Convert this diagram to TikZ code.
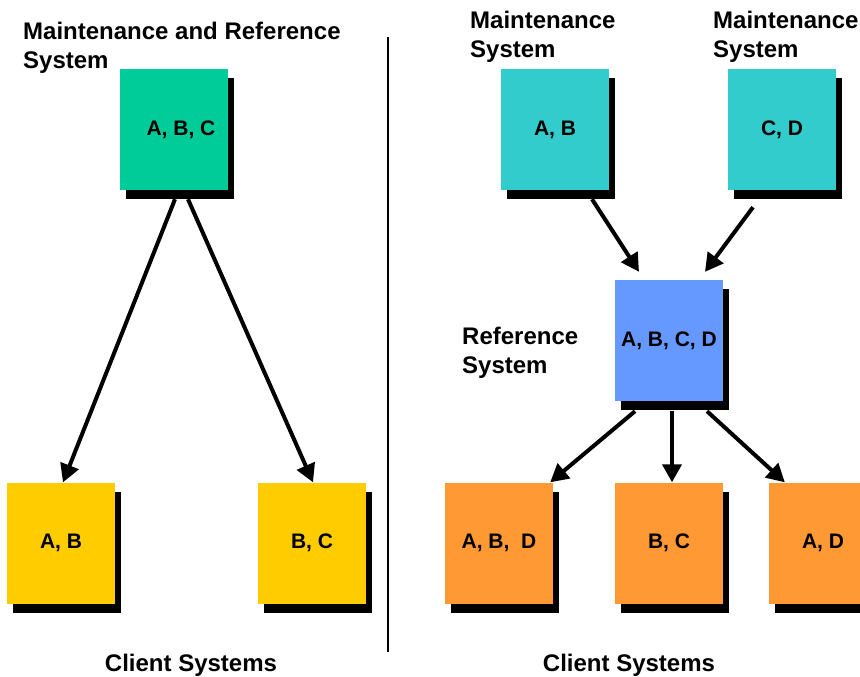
\documentclass[tikz,border=0pt]{standalone}
\usepackage{fontspec}
\setmainfont{Liberation Sans}
\usepackage{xcolor}
\usetikzlibrary{shadows}
\usetikzlibrary{arrows.meta}
\definecolor{mrgreen}{RGB}{0,204,153}
\definecolor{maincyan}{RGB}{51,204,204}
\definecolor{refblue}{RGB}{102,153,255}
\definecolor{leftyellow}{RGB}{255,204,0}
\definecolor{clientorange}{RGB}{255,153,51}
\tikzset{sysbox/.style={minimum width=108pt,minimum height=121pt,inner sep=0pt,
   font=\fontsize{21}{25}\selectfont\bfseries,
   general shadow={fill=black,shadow xshift=6pt,shadow yshift=-9pt}},
 title/.style={anchor=north west,align=left,inner sep=0pt,
   font=\fontsize{24}{29}\selectfont\bfseries},
 caption/.style={anchor=base,inner sep=0pt,font=\fontsize{24}{29}\selectfont\bfseries},
 flow/.style={line width=4pt,-{Triangle[length=18pt,width=19pt]}},
 }

\begin{document}
\begin{tikzpicture}[x=1pt,y=-1pt]
        \clip (0,0) rectangle (860,677);
        \fill[white] (0,0) rectangle (860,677);
        % left: one system does both
        \node[title] (mrt) at (23,22) {Maintenance and Reference\\System};
        \node[sysbox,fill=mrgreen] (mr) at (174,129.5) {\hspace{14pt}A, B, C};
        \node[sysbox,fill=leftyellow] (ab) at (61,543) {A, B};
        \node[sysbox,fill=leftyellow] (bc) at (312,543) {B, C};
        \draw[flow] ([shift={(1pt,-9pt)}]mr.south) -- ([xshift=2pt]ab.north);
        \draw[flow] ([shift={(14pt,-9pt)}]mr.south) -- ([xshift=1pt]bc.north);
        \node[caption] (lcl) at (191,671) {Client Systems};
        \draw[line width=2pt] (388,37) -- (388,652);
        % right: separate maintenance systems
        \node[title] (mat) at (470,11) {Maintenance\\System};
        \node[title] (mct) at (713,11) {Maintenance\\System};
        \node[sysbox,fill=maincyan] (ma) at (555,129.5) {A, B};
        \node[sysbox,fill=maincyan] (mc) at (782,129.5) {C, D};
        \node[title] (rst) at (462,327) {Reference\\System};
        \node[sysbox,fill=refblue] (rs) at (669,340.5) {A, B, C, D};
        \draw[flow] ([shift={(37pt,-9pt)}]ma.south) -- ([shift={(-30pt,8pt)}]rs.north);
        \draw[flow] ([shift={(-29pt,-17pt)}]mc.south) -- ([shift={(36pt,8pt)}]rs.north);
        \node[sysbox,fill=clientorange] (abd) at (499,543) {A, B,\ \ D};
        \node[sysbox,fill=clientorange] (bc2) at (669,543) {B, C};
        \node[sysbox,fill=clientorange] (ad) at (823,543) {A, D};
        \draw[flow] ([shift={(-34pt,-10pt)}]rs.south) -- ([xshift=-3pt]abd.north east);
        \draw[flow] ([shift={(3pt,-10pt)}]rs.south) -- ([xshift=3pt]bc2.north);
        \draw[flow] ([shift={(38pt,-10pt)}]rs.south) -- ([xshift=16pt]ad.north west);
        \node[caption] (rcl) at (629,671) {Client Systems};
    \end{tikzpicture}
\end{document}
